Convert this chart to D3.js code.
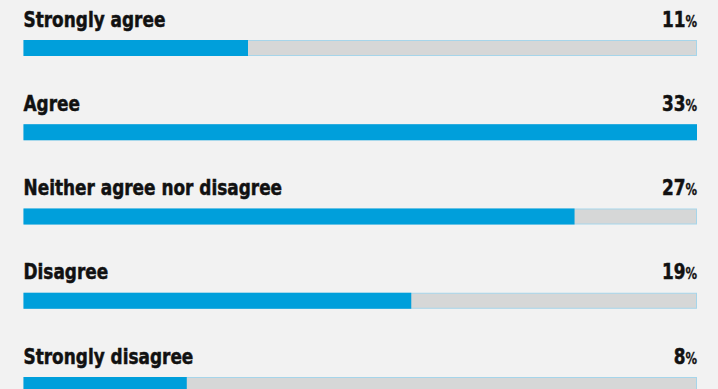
<!DOCTYPE html>
<html>
<head>
<meta charset="utf-8">
<script src="https://cdn.jsdelivr.net/npm/d3@7"></script>
<style>
  html, body { margin: 0; padding: 0; background: #f2f2f2; }
  svg { display: block; }
  .label {
    font-family: "DejaVu Sans Condensed", "DejaVu Sans", sans-serif;
    font-weight: bold; font-size: 22px;
    fill: #111; stroke: #111; stroke-width: 0.5px;
  }
</style>
</head>
<body>
<svg id="chart" width="718" height="389"></svg>
<script>
// Survey responses and their shares (%)
const categories = ["Strongly agree", "Agree", "Neither agree nor disagree", "Disagree", "Strongly disagree"];
const values = [11, 33, 27, 19, 8];
const maxValue = 33;

const width = 718, height = 389;
const svg = d3.select("#chart");

svg.append("rect").attr("width", width).attr("height", height).attr("fill", "#f2f2f2");

const x = d3.scaleLinear().domain([0, maxValue]).range([23.5, 697]);
const y = d3.scalePoint().domain(categories).range([40, 377]);
const barH = 16;
const squeeze = 0.855;   // narrows the bold face to a condensed look
const labelY = -13.5;

const rows = svg.selectAll("g.row")
  .data(categories.map((c, i) => ({ cat: c, val: values[i] })))
  .join("g").attr("class", "row")
  .attr("transform", d => `translate(0,${y(d.cat)})`);

// Grey track spanning the full scale
rows.append("rect")
  .attr("x", x(0) + 0.5).attr("y", 0.5)
  .attr("width", x(maxValue) - x(0) - 1).attr("height", barH - 1)
  .attr("fill", "#d6d7d7")
  .attr("stroke", "#a6d5ea").attr("stroke-width", 1);

// Blue value bar
rows.append("rect")
  .attr("x", x(0)).attr("y", 0)
  .attr("width", d => x(d.val) - x(0)).attr("height", barH)
  .attr("fill", "#009fdb");

// Category label
rows.append("text")
  .attr("class", "label")
  .attr("transform", `translate(${x(0)},${labelY}) scale(${squeeze},1)`)
  .text(d => d.cat);

// Value label with a smaller percent sign
const vt = rows.append("text")
  .attr("class", "label")
  .attr("transform", `translate(${x(maxValue)},${labelY}) scale(${squeeze},1)`)
  .attr("text-anchor", "end");
vt.append("tspan").text(d => d.val);
vt.append("tspan").attr("font-size", "15px").attr("stroke-width", "0.3px").text("%");
</script>
</body>
</html>
